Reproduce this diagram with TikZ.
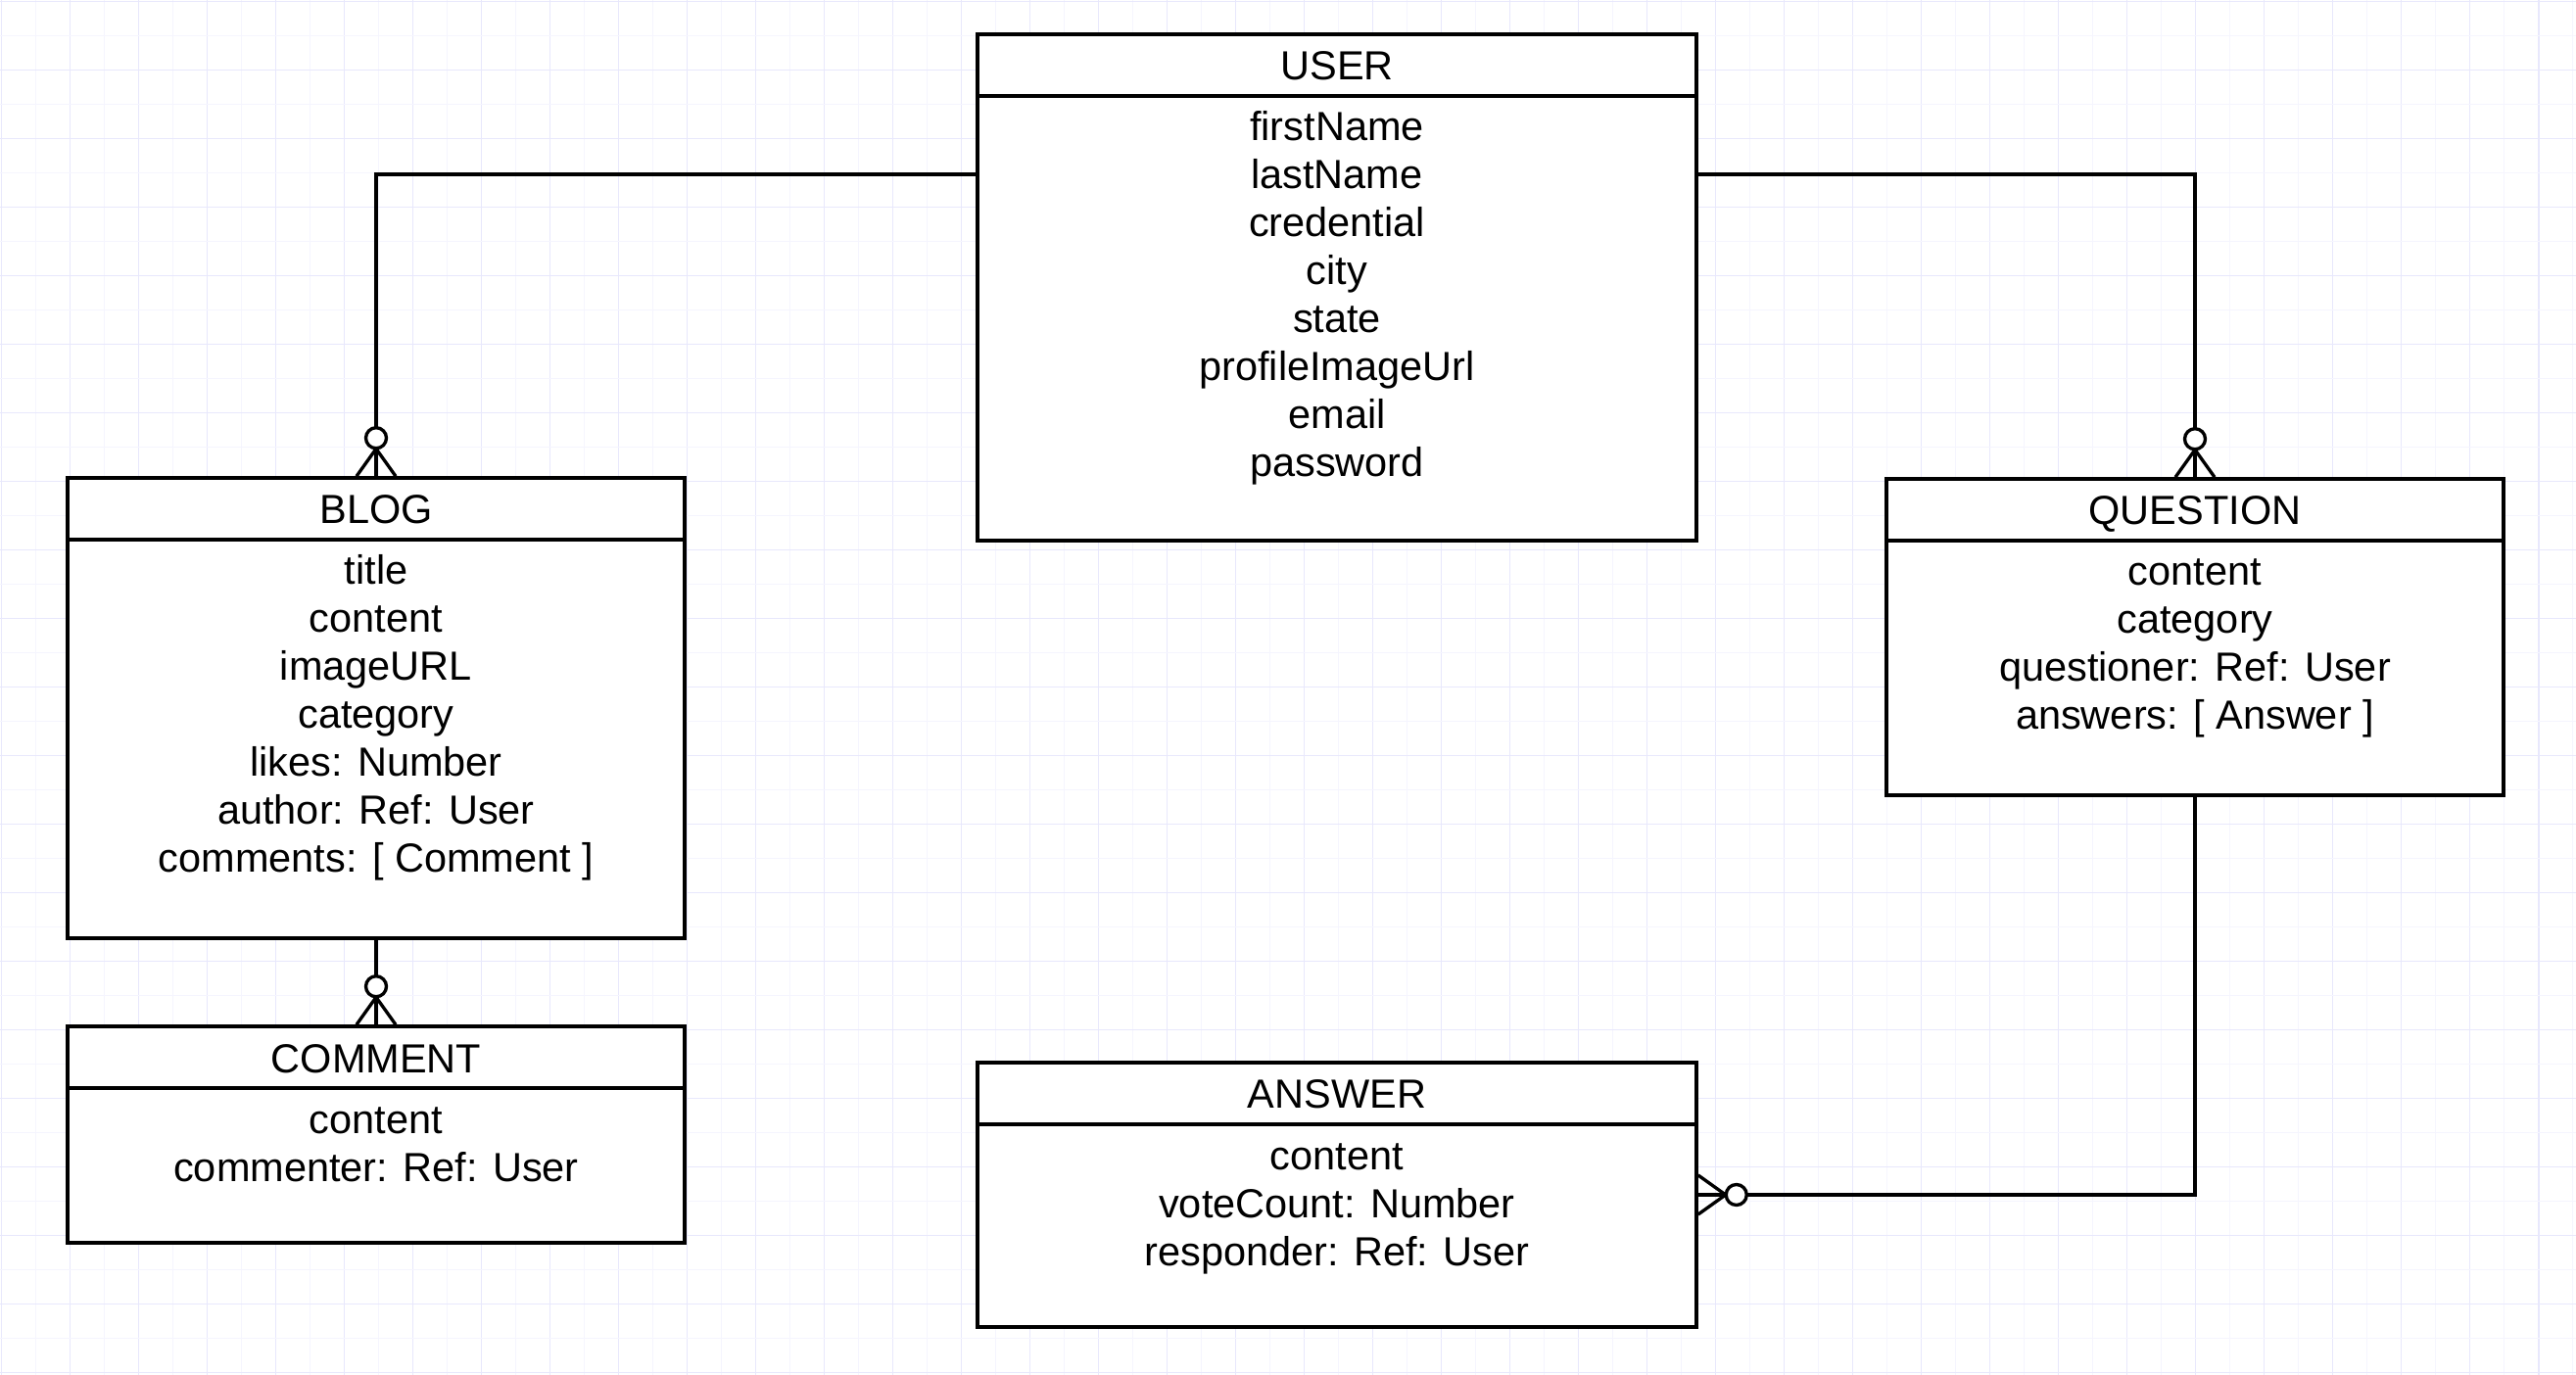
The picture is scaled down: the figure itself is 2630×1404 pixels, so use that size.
\documentclass[tikz,border=0pt]{standalone}
\usepackage{fontspec}
\setmainfont{Liberation Sans}
\usepackage{tikz}
\usetikzlibrary{positioning,fit,calc}
\definecolor{gridmaj}{RGB}{232,232,252}
\definecolor{gridmin}{RGB}{245,245,254}
\newcommand\erfont{\fontsize{11.8pt}{14pt}\selectfont}
\tikzset{ent/.style={draw, line width=1pt, fill=white, inner sep=0pt}}
\tikzset{hline/.style={draw, line width=1pt}}
\tikzset{etitle/.style={anchor=base, inner sep=0pt, font=\erfont}}
\tikzset{eattr/.style={anchor=base, inner sep=0pt, font=\erfont}}
\tikzset{rel/.style={draw, line width=0.95pt}}
\tikzset{gmaj/.style={draw=gridmaj, line width=0.55pt}}
\tikzset{gmin/.style={draw=gridmin, line width=0.5pt}}
% #1 name, #2 left, #3 top, #4 right, #5 bottom, #6 title, #7 fields
\newcommand\entity[7]{
				\node[ent, fit={(#2,#3) (#4,#5)}] (#1) {};
				\draw[hline] (#2,{#3+63}) -- (#4,{#3+63});
				\node[etitle] (#1-title) at ({(#2+#4)/2},{#3+47}) {#6};
				\foreach \field [count=\i] in {#7}
					\node[eattr] (#1-\i) at ({(#2+#4)/2},{#3+109+49*(\i-1)}) {\field};
				}
% zero-or-many end, #2 = direction pointing away from the box
\newcommand\manyend[2]{
				\begin{scope}[shift={(#1)}, rotate=#2]
					\draw[rel] (0,-20) -- (28,0) -- (0,20);
					\draw[rel, fill=white] (39,0) circle (10.5);
				\end{scope}
				}
\begin{document}
\begin{tikzpicture}[x=0.01cm, y=-0.01cm]
	\useasboundingbox (0,0) rectangle (2630,1404);
	\fill[white] (0,0) rectangle (2630,1404);
	\foreach \k in {0,...,37} {
		\draw[gmin] ({36.5+70*\k},0) -- ({36.5+70*\k},1404);
		\draw[gmaj] ({1.5+70*\k},0) -- ({1.5+70*\k},1404);
	}
	\foreach \k in {0,...,20} {
		\draw[gmin] (0,{36.5+70*\k}) -- (2630,{36.5+70*\k});
		\draw[gmaj] (0,{1.5+70*\k}) -- (2630,{1.5+70*\k});
	}

	\entity{user}{998}{35}{1732}{552}{USER}{firstName, lastName, credential, city, state, profileImageUrl, email, password}
	\entity{blog}{69}{488}{699}{958}{BLOG}{title, content, imageURL, category, likes: Number, author: Ref: User, {comments: [ Comment ]}}
	\entity{comment}{69}{1048}{699}{1269}{COMMENT}{content, commenter: Ref: User}
	\entity{question}{1926}{489}{2556}{812}{QUESTION}{content, category, questioner: Ref: User, {answers: [ Answer ]}}
	\entity{answer}{998}{1085}{1732}{1355}{ANSWER}{content, voteCount: Number, responder: Ref: User}

	\coordinate (user-row) at (1365,178);
	\draw[rel] (user.west |- user-row) -| (blog.north);
	\draw[rel] (user.east |- user-row) -| (question.north);
	\draw[rel] (blog.south) -- (comment.north);
	\draw[rel] (question.south) |- (answer.east);

	\manyend{blog.north}{90}
	\manyend{question.north}{90}
	\manyend{comment.north}{90}
	\manyend{answer.east}{0}
\end{tikzpicture}
\end{document}
